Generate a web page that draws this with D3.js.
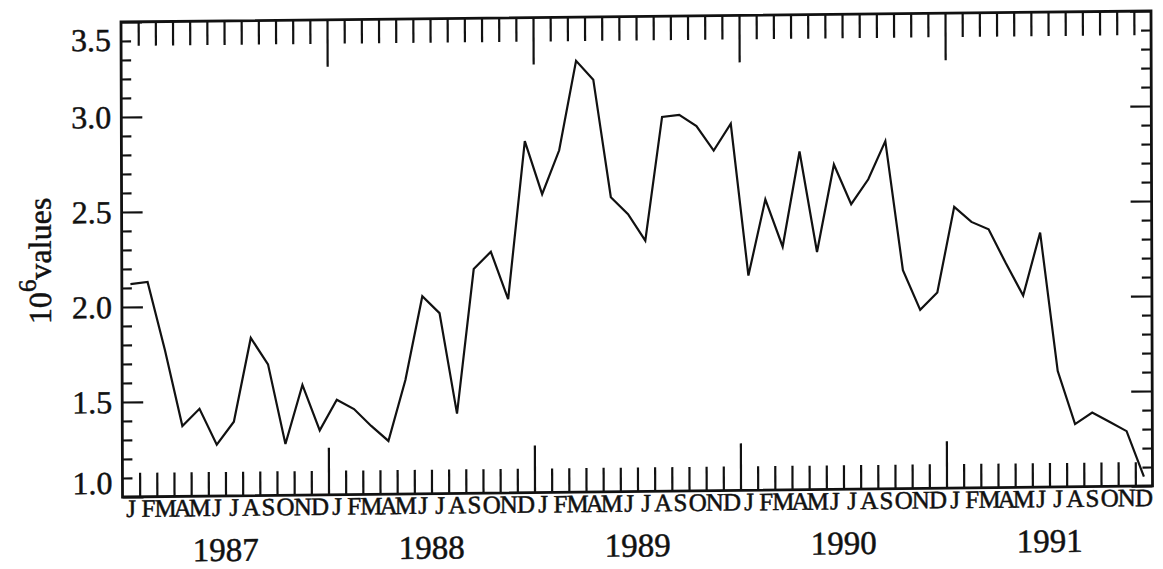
<!DOCTYPE html>
<html>
<head>
<meta charset="utf-8">
<script src="https://cdn.jsdelivr.net/npm/d3@7"></script>
<style>
  html, body { margin: 0; padding: 0; background: #fff; }
  svg { display: block; }
  text { font-family: "Liberation Serif", "Times New Roman", serif; fill: #111; stroke: #111; stroke-width: 0.5px; }
</style>
</head>
<body>
<script>
// ---- data ----
const years = ["1987", "1988", "1989", "1990", "1991"];
const monthLetters = ["J","F","M","A","M","J","J","A","S","O","N","D"];
const values1987 = [2.12, 2.13, 1.77, 1.37, 1.46, 1.27, 1.39, 1.83, 1.69, 1.27, 1.58, 1.34];
const values1988 = [1.50, 1.45, 1.36, 1.28, 1.60, 2.04, 1.95, 1.42, 2.18, 2.27, 2.02, 2.85];
const values1989 = [2.57, 2.80, 3.27, 3.17, 2.55, 2.46, 2.32, 2.97, 2.98, 2.92, 2.79, 2.93];
const values1990 = [2.13, 2.53, 2.28, 2.78, 2.25, 2.71, 2.50, 2.63, 2.83, 2.15, 1.94, 2.03];
const values1991 = [2.48, 2.40, 2.36, 2.18, 2.01, 2.34, 1.61, 1.33, 1.39, 1.34, 1.29, 1.05];
const yTickLabels = [1.0, 1.5, 2.0, 2.5, 3.0, 3.5];
const yLabelBase = "10";
const yLabelExp = "6";
const yLabelText = "values";

const values = [].concat(values1987, values1988, values1989, values1990, values1991);
const nMonths = values.length;

// ---- layout ----
const W = 1163, H = 569;
const plotL = 121, plotR = 1151, plotT = 22, plotB = 497;
const ink = "#111";

const svg = d3.select("body").append("svg").attr("width", W).attr("height", H);
// slight skew/rotation like the scanned original
const g = svg.append("g").attr("transform", "matrix(1,-0.0107,0.0032,1,-0.07,1.295)");

const x = d3.scaleLinear().domain([0, nMonths]).range([plotL, plotR]);
const y = d3.scaleLinear().domain([1.0, 3.5]).range([plotB, plotT]);

const yMinor = d3.range(10, 36).map(v => v / 10);
const isMajorY = v => Math.abs(v * 2 - Math.round(v * 2)) < 1e-6;
const xTicks = d3.range(1, nMonths);
const isMajorX = v => v % 12 === 0;

function styleAxis(sel, majorFn, minorLen, majorLen, sign, attr) {
  sel.select(".domain").remove();
  sel.selectAll(".tick text").remove();
  sel.selectAll(".tick line")
    .attr("stroke", ink)
    .attr("stroke-width", 2.2)
    .attr(attr, d => sign * (majorFn(d) ? majorLen : minorLen));
}

// left axis
g.append("g").attr("transform", `translate(${plotL},0)`)
  .call(d3.axisLeft(y).tickValues(yMinor).tickSize(-10).tickFormat(""))
  .call(s => styleAxis(s, isMajorY, 10, 21, 1, "x2"));
// right axis
g.append("g").attr("transform", `translate(${plotR},0)`)
  .call(d3.axisRight(y).tickValues(yMinor).tickSize(-10).tickFormat(""))
  .call(s => styleAxis(s, isMajorY, 10, 21, -1, "x2"));
// bottom axis
g.append("g").attr("transform", `translate(0,${plotB})`)
  .call(d3.axisBottom(x).tickValues(xTicks).tickSize(-24).tickFormat(""))
  .call(s => styleAxis(s, isMajorX, 24, 47, -1, "y2"));
// top axis
g.append("g").attr("transform", `translate(0,${plotT})`)
  .call(d3.axisTop(x).tickValues(xTicks).tickSize(-24).tickFormat(""))
  .call(s => styleAxis(s, isMajorX, 24, 47, 1, "y2"));

// frame
g.append("rect")
  .attr("x", plotL).attr("y", plotT)
  .attr("width", plotR - plotL).attr("height", plotB - plotT)
  .attr("fill", "none").attr("stroke", ink).attr("stroke-width", 2.8);

// y tick labels (end labels kept inside the frame)
g.selectAll(".ylab").data(yTickLabels).join("text")
  .attr("class", "ylab")
  .attr("x", plotL - 10)
  .attr("y", d => y(d))
  .attr("dy", d => d === 3.5 ? "0.9em" : (d === 1.0 ? "-0.1em" : "0.34em"))
  .attr("text-anchor", "end")
  .attr("font-size", 32)
  .text(d => d.toFixed(1));

// month letters
g.selectAll(".mlab").data(d3.range(nMonths)).join("text")
  .attr("class", "mlab")
  .attr("x", i => x(i + 0.5))
  .attr("y", 517)
  .attr("text-anchor", "middle")
  .attr("font-size", 25)
  .text(i => monthLetters[i % 12]);

// year labels
g.selectAll(".yrlab").data(years).join("text")
  .attr("class", "yrlab")
  .attr("x", (d, k) => x(12 * k + 6))
  .attr("y", 562)
  .attr("text-anchor", "middle")
  .attr("font-size", 33)
  .text(d => d);

// y axis title
const yt = g.append("text")
  .attr("transform", "translate(50,260) rotate(-90)")
  .attr("text-anchor", "middle")
  .attr("font-size", 32);
yt.append("tspan").text(yLabelBase);
yt.append("tspan").attr("dy", -15).attr("font-size", 25).text(yLabelExp);
yt.append("tspan").attr("dy", 15).text(yLabelText);

// data line
const line = d3.line().x((d, i) => x(i + 0.5)).y(d => y(d));
g.append("path").datum(values)
  .attr("d", line)
  .attr("fill", "none")
  .attr("stroke", ink)
  .attr("stroke-width", 2.2)
  .attr("stroke-linejoin", "miter");
</script>
</body>
</html>
